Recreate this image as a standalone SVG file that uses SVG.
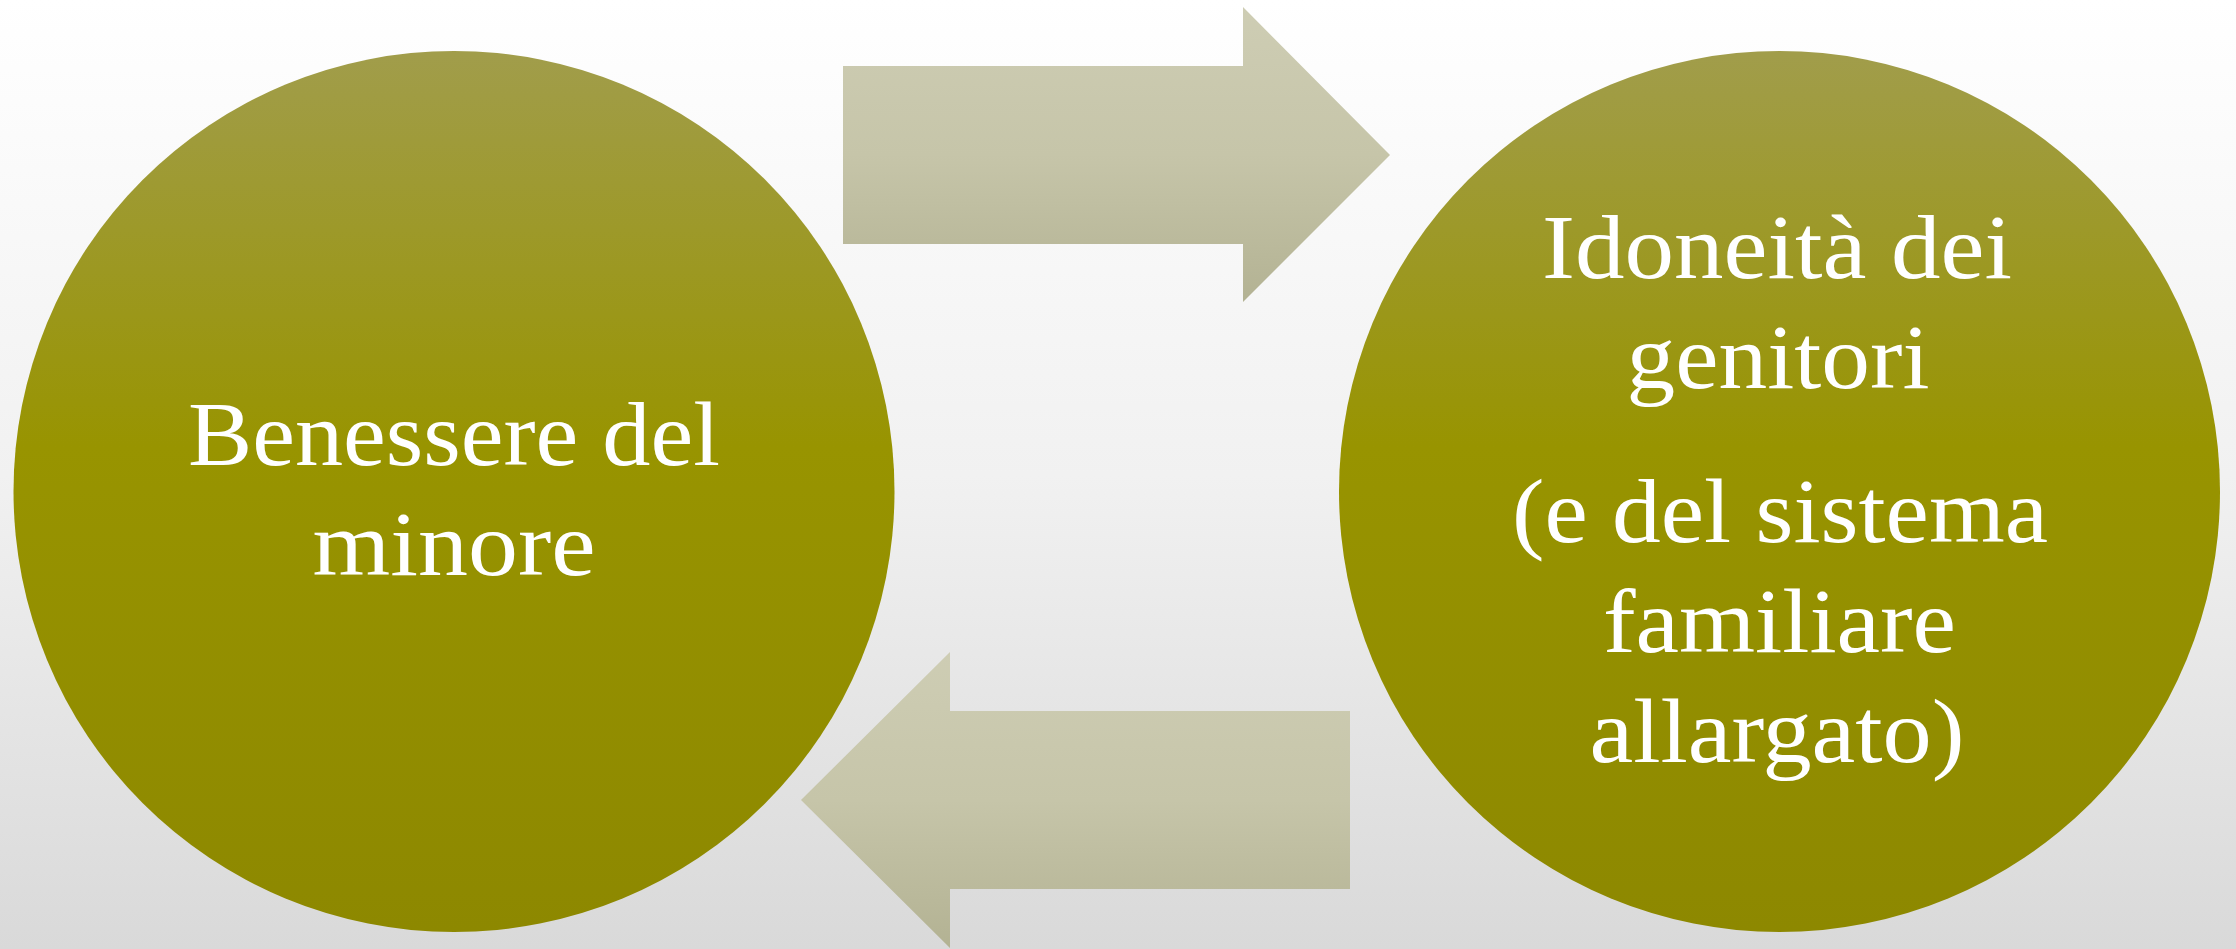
<svg xmlns="http://www.w3.org/2000/svg" width="2236" height="949" viewBox="0 0 2236 949">
  <defs>
    <linearGradient id="bg" x1="0" y1="0" x2="0" y2="1">
      <stop offset="0" stop-color="#ffffff"/>
      <stop offset="0.5" stop-color="#f1f1f1"/>
      <stop offset="1" stop-color="#d9d9d9"/>
    </linearGradient>
    <linearGradient id="circ" x1="0" y1="0" x2="0" y2="1">
      <stop offset="0" stop-color="#a19d4b"/>
      <stop offset="0.45" stop-color="#989400"/>
      <stop offset="1" stop-color="#8d8800"/>
    </linearGradient>
    <linearGradient id="arr" x1="0" y1="0" x2="0" y2="1">
      <stop offset="0" stop-color="#cecdb4"/>
      <stop offset="0.5" stop-color="#c6c5a9"/>
      <stop offset="1" stop-color="#b3b293"/>
    </linearGradient>
    <style>
      .node { fill: url(#circ); }
      .arrow { fill: url(#arr); }
      .lbl { font-family: "Liberation Serif", "DejaVu Serif", serif; font-size: 92px; fill: #ffffff; text-anchor: middle; }
    </style>
  </defs>
  <rect x="0" y="0" width="2236" height="949" fill="url(#bg)"/>
  <g id="connectors">
    <polygon class="arrow" points="843,66 1243,66 1243,7 1390,155 1243,302 1243,244 843,244"/>
    <polygon class="arrow" points="1350,711 950,711 950,652 801,800 950,948 950,889 1350,889"/>
  </g>
  <g id="node-benessere">
    <circle class="node" cx="454" cy="491.5" r="440.5"/>
    <text class="lbl" x="454" y="465" textLength="532" lengthAdjust="spacingAndGlyphs">Benessere del</text>
    <text class="lbl" x="454" y="575" textLength="283" lengthAdjust="spacingAndGlyphs">minore</text>
  </g>
  <g id="node-idoneita">
    <circle class="node" cx="1779.5" cy="491.5" r="440.5"/>
    <text class="lbl" x="1777" y="278" textLength="470" lengthAdjust="spacingAndGlyphs">Idoneità dei</text>
    <text class="lbl" x="1778" y="388" textLength="303" lengthAdjust="spacingAndGlyphs">genitori</text>
    <text class="lbl" x="1780" y="542" textLength="536" lengthAdjust="spacingAndGlyphs">(e del sistema</text>
    <text class="lbl" x="1779.5" y="652" textLength="353" lengthAdjust="spacingAndGlyphs">familiare</text>
    <text class="lbl" x="1777" y="762" textLength="375" lengthAdjust="spacingAndGlyphs">allargato)</text>
  </g>
</svg>
